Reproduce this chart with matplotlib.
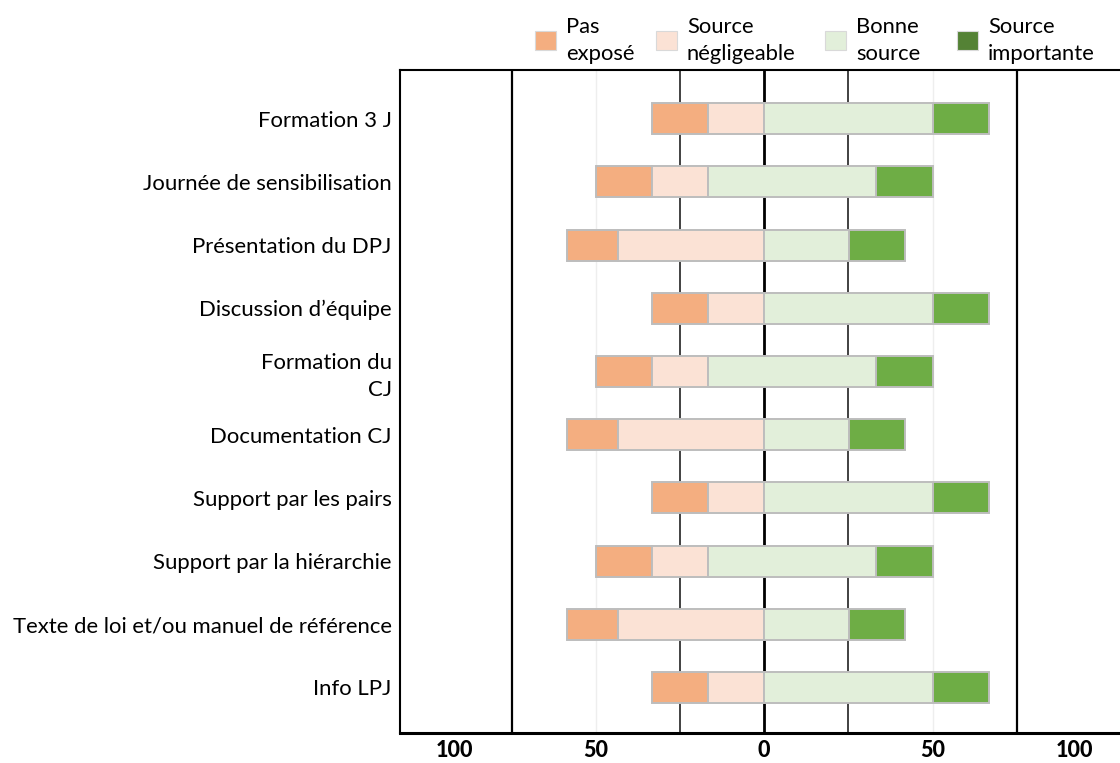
import matplotlib
matplotlib.use("Agg")
import matplotlib.pyplot as plt
from matplotlib.patches import Rectangle

plt.rcParams['font.family'] = ['Lato', 'DejaVu Sans']

categories = [
    "Formation 3 J",
    "Journée de sensibilisation",
    "Présentation du DPJ",
    "Discussion d’équipe",
    "Formation du\nCJ",
    "Documentation CJ",
    "Support par les pairs",
    "Support par la hiérarchie",
    "Texte de loi et/ou manuel de référence",
    "Info LPJ",
]
# left edge (start) of each stacked bar, in axis units
starts = [-33.3, -50.0, -58.5, -33.3, -50.0, -58.5, -33.3, -50.0, -58.5, -33.3]
pas_expose = [16.7, 16.7, 15.0, 16.7, 16.7, 15.0, 16.7, 16.7, 15.0, 16.7]
source_negligeable = [16.6, 16.6, 43.5, 16.6, 16.6, 43.5, 16.6, 16.6, 43.5, 16.6]
bonne_source = [50.0, 50.0, 25.3, 50.0, 50.0, 25.3, 50.0, 50.0, 25.3, 50.0]
source_importante = [16.7, 16.7, 16.4, 16.7, 16.7, 16.4, 16.7, 16.7, 16.4, 16.7]

series_labels = ["Pas\nexposé", "Source\nnégligeable", "Bonne\nsource", "Source\nimportante"]
bar_colors = ["#F4AE80", "#FBE2D5", "#E2EFDA", "#6EAD45"]
legend_colors = ["#F4AE80", "#FBE2D5", "#E2EFDA", "#548235"]

tick_values = [-92, -50, 0, 50, 92]
tick_labels = ["100", "50", "0", "50", "100"]

W, H = 1120, 763
fig = plt.figure(figsize=(W / 100, H / 100), dpi=100)
ax = fig.add_axes([400 / W, 30 / H, 720 / W, 663 / H])

ax.set_xlim(-108.1, 105.6)
ax.set_ylim(9.72, -0.77)

# reference lines
for xv in [-50, 50]:
    ax.axvline(xv, color="#EEEEEE", lw=1.0, zorder=0)
for xv in [-25, 25]:
    ax.axvline(xv, color="#333333", lw=1.3, zorder=0)
for xv in [-75, 75]:
    ax.axvline(xv, color="black", lw=1.6, zorder=0)
ax.axvline(0, color="black", lw=2.0, zorder=0)

y = list(range(len(categories)))
series = [pas_expose, source_negligeable, bonne_source, source_importante]
left = list(starts)
for vals, col, lab in zip(series, bar_colors, series_labels):
    ax.barh(y, vals, left=left, height=0.49, color=col, edgecolor="#BDBDBD",
            linewidth=1.4, zorder=2, label=lab)
    left = [l + v for l, v in zip(left, vals)]

ax.set_yticks(y)
ax.set_yticklabels(categories, fontsize=15.9, linespacing=1.42)
ax.tick_params(axis="y", length=0, pad=6)
ax.set_xticks(tick_values)
ax.set_xticklabels(tick_labels, fontsize=15.5, fontweight="black")
ax.tick_params(axis="x", length=0, pad=5)

for s in ["left", "top", "bottom"]:
    ax.spines[s].set_color("black")
    ax.spines[s].set_linewidth(1.5)
ax.spines["bottom"].set_linewidth(2.2)
ax.spines["right"].set_visible(False)

# legend drawn at the top of the figure
legend_x = [535, 656, 825, 957]
for xp, col, lab in zip(legend_x, legend_colors, series_labels):
    fig.add_artist(Rectangle((xp / W, 1 - 50 / H), 21 / W, 19 / H,
                             transform=fig.transFigure, facecolor=col,
                             edgecolor="#D9D9D9", lw=0.8))
    fig.text((xp + 31) / W, 1 - 40.5 / H, lab, fontsize=15.8, ha="left",
             va="center", linespacing=1.38)

fig.savefig("out.png", dpi=100)
